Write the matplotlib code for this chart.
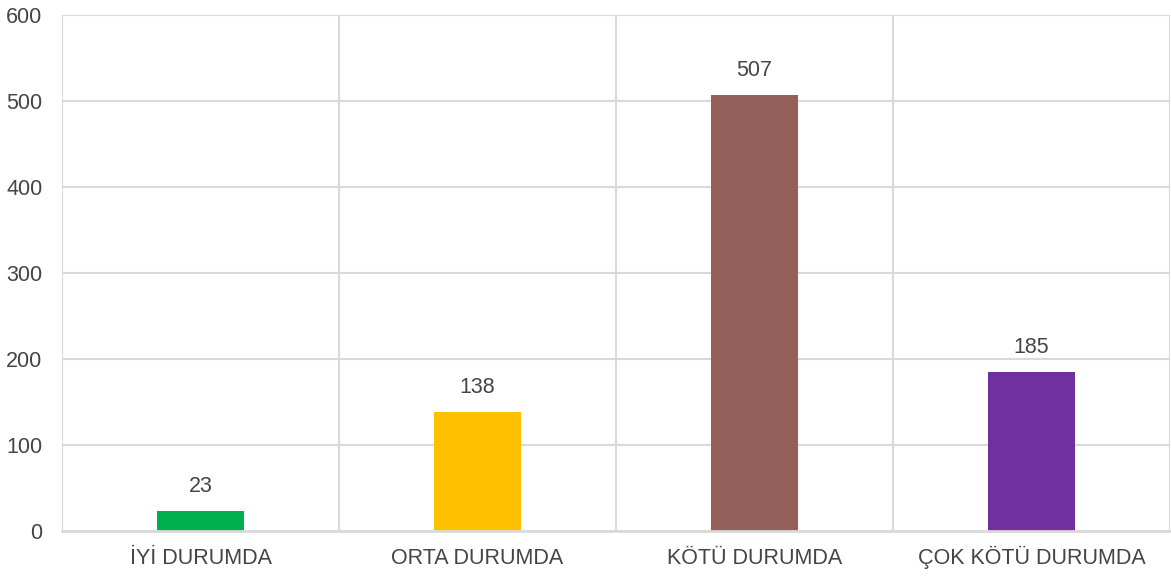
import matplotlib.pyplot as plt
from matplotlib import font_manager

categories = ["İYİ DURUMDA", "ORTA DURUMDA", "KÖTÜ DURUMDA", "ÇOK KÖTÜ DURUMDA"]
values = [23, 138, 507, 185]
colors = ["#00B050", "#FFC000", "#955F5A", "#7030A0"]
yticks = [0, 100, 200, 300, 400, 500, 600]

names = {f.name for f in font_manager.fontManager.ttflist}
fam = "Liberation Sans Narrow" if "Liberation Sans Narrow" in names else "Liberation Sans"
plt.rcParams["font.family"] = [fam, "DejaVu Sans"]

text_color = "#454545"
grid_color = "#D9D9D9"
fs = 15.5

fig = plt.figure(figsize=(11.71, 5.81), dpi=100)
ax = fig.add_axes([62 / 1171, 50 / 581, 1108 / 1171, 516 / 581])

x = list(range(len(categories)))
bars = ax.bar(x, values, width=0.315, color=colors, zorder=3)

for b, v in zip(bars, values):
    ax.annotate(str(v), (b.get_x() + b.get_width() / 2, v), xytext=(0, 10),
                textcoords="offset points", ha="center", va="bottom",
                fontsize=fs, color=text_color)

ax.set_xlim(-0.5, len(categories) - 0.5)
ax.set_ylim(0, 600)
ax.set_yticks(yticks)
ax.set_yticklabels([str(t) for t in yticks])
ax.set_xticks(x)
ax.set_xticklabels(categories, va="baseline")

# category separators as vertical grid lines
for b in [i - 0.5 for i in range(len(categories) + 1)]:
    ax.axvline(b, color=grid_color, lw=1.5, zorder=1)
for t in yticks[1:]:
    ax.axhline(t, color=grid_color, lw=1.5, zorder=1)

for s in ["top", "right", "left"]:
    ax.spines[s].set_visible(False)
ax.spines["bottom"].set_color(grid_color)
ax.spines["bottom"].set_linewidth(2)
ax.spines["bottom"].set_zorder(4)

ax.tick_params(axis="both", length=0, labelsize=fs, labelcolor=text_color)
ax.tick_params(axis="y", pad=14)
ax.tick_params(axis="x", pad=24)

fig.savefig("out.png", dpi=100)
